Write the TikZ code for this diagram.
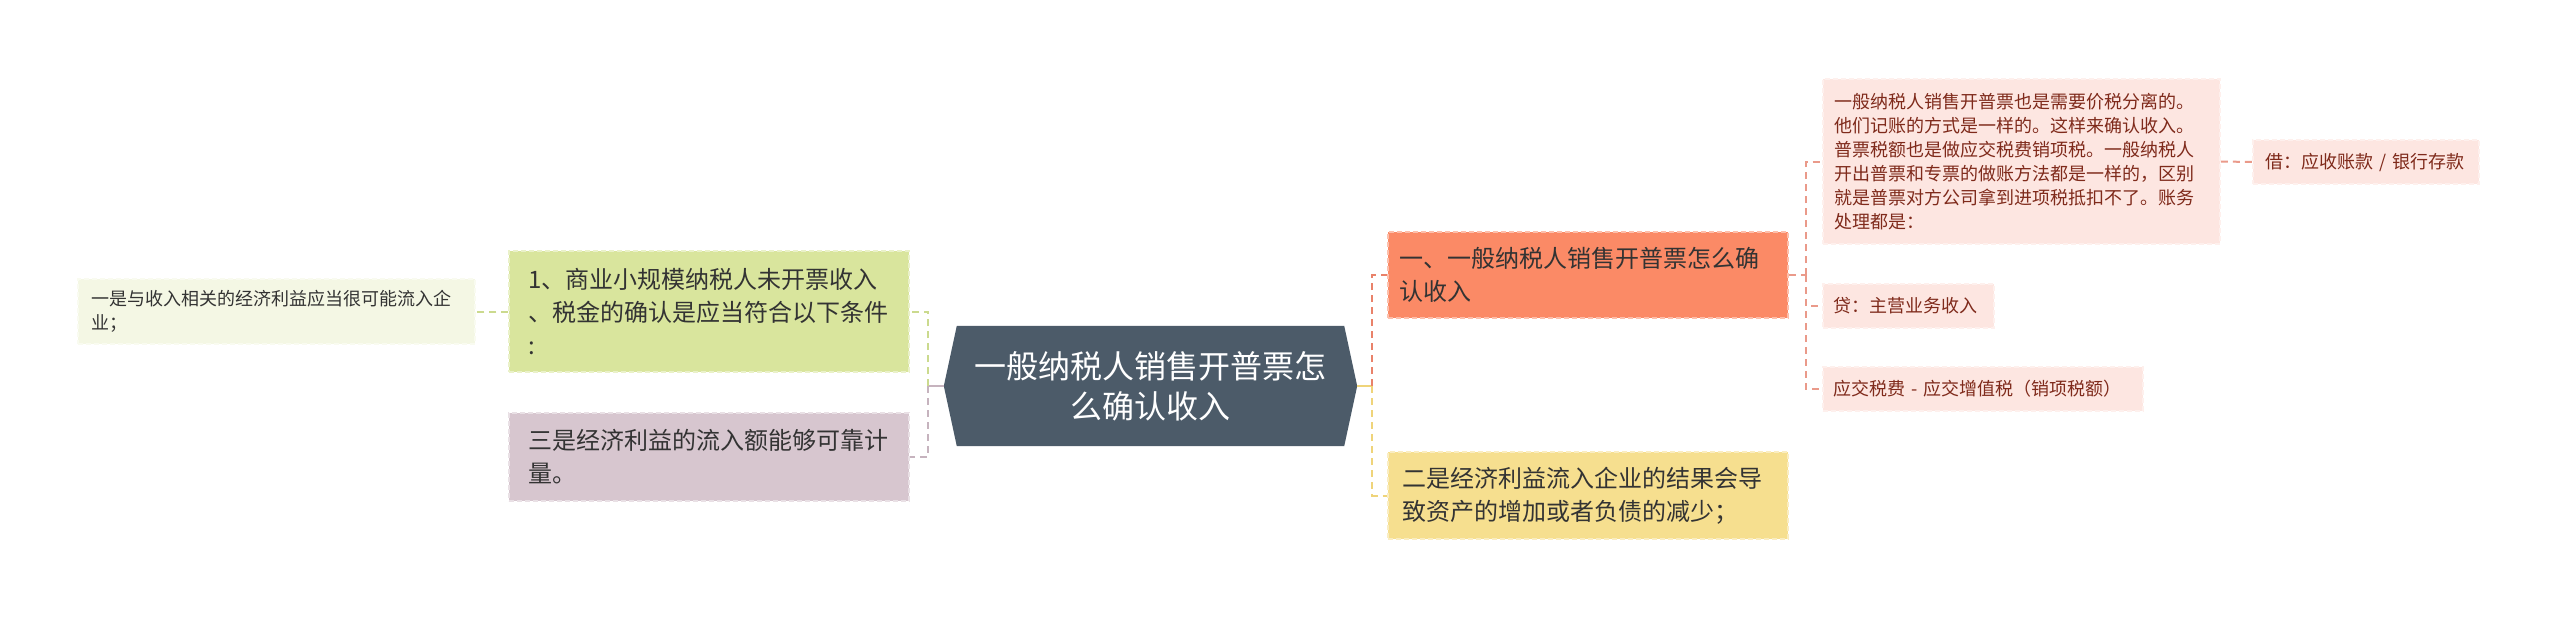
\documentclass[tikz,border=0pt]{standalone}
\usepackage{fontspec}
\setmainfont{Noto Sans CJK SC}
\usetikzlibrary{backgrounds}

\definecolor{hubfill}{HTML}{4C5B69}
\definecolor{greenfill}{HTML}{D9E59D}
\definecolor{plumfill}{HTML}{D7C6CF}
\definecolor{palefill}{HTML}{F4F7E4}
\definecolor{coralfill}{HTML}{FB8A66}
\definecolor{sandfill}{HTML}{F6DF8F}
\definecolor{rosefill}{HTML}{FDE6E1}
\definecolor{greenlink}{HTML}{CBDA8E}
\definecolor{plumlink}{HTML}{C6B3BE}
\definecolor{corallink}{HTML}{E9826A}
\definecolor{sandlink}{HTML}{EFD47A}
\definecolor{roselink}{HTML}{EA9A8A}
\definecolor{rosetext}{HTML}{7F2A1B}
\definecolor{darktext}{HTML}{333333}

\tikzset{
  card/.style={rectangle, inner ysep=0pt, align=left, dashed, line width=1.5pt,
    dash pattern=on 5pt off 3pt, text=darktext},
  big/.style={font=\fontsize{24}{33}\selectfont},
  small/.style={font=\fontsize{18}{24}\selectfont},
  link/.style={draw=#1, line width=2pt, dash pattern=on 7pt off 5pt}
}

\begin{document}
\begin{tikzpicture}[x=1pt, y=-1pt]

\useasboundingbox (0,0) rectangle (2560,621);

% centre
\node[text=white, align=center, minimum width=387, minimum height=120, inner sep=0pt,
  font=\fontsize{32}{40}\selectfont] (hub) at (1150.5,386) {一般纳税人销售开普票怎\\么确认收入};
\begin{scope}[on background layer]
\fill[hubfill] (hub.north west) -- (hub.north east) -- ([xshift=13pt]hub.east)
  -- (hub.south east) -- (hub.south west) -- ([xshift=-13pt]hub.west) -- cycle;
\end{scope}
\coordinate (hubl) at ([xshift=-13pt]hub.west);
\coordinate (hubr) at ([xshift=13pt]hub.east);

% left side
\node[card, big, fill=greenfill, draw=greenfill!55!white, minimum width=400, minimum height=121,
  inner xsep=19pt, text width=362] (cond) at (709,311.5)
  {1、商业小规模纳税人未开票收入\\、税金的确认是应当符合以下条件\\:};
\node[card, big, fill=plumfill, draw=plumfill!55!white, minimum width=400, minimum height=88,
  inner xsep=19pt, text width=362] (third) at (709,457)
  {三是经济利益的流入额能够可靠计\\量。};
\node[card, small, fill=palefill, draw=palefill!55!white, minimum width=397, minimum height=65,
  inner xsep=13pt, text width=371] (first) at (276.5,311.5)
  {一是与收入相关的经济利益应当很可能流入企\\业；};

% right side
\node[card, big, fill=coralfill, draw=coralfill!55!white, minimum width=400, minimum height=86,
  inner xsep=11pt, text width=378] (head) at (1588,275)
  {一、一般纳税人销售开普票怎么确\\认收入};
\node[card, big, fill=sandfill, draw=sandfill!55!white, minimum width=400, minimum height=87,
  inner xsep=14pt, text width=372] (second) at (1588,495.5)
  {二是经济利益流入企业的结果会导\\致资产的增加或者负债的减少；};

\node[card, small, fill=rosefill, draw=rosefill!60!white, text=rosetext, minimum width=397,
  minimum height=165, inner xsep=11pt, text width=375] (note) at (2021.5,161.5)
  {一般纳税人销售开普票也是需要价税分离的。\\他们记账的方式是一样的。这样来确认收入。\\普票税额也是做应交税费销项税。一般纳税人\\开出普票和专票的做账方法都是一样的，区别\\就是普票对方公司拿到进项税抵扣不了。账务\\处理都是：};
\node[card, small, fill=rosefill, draw=rosefill!60!white, text=rosetext, minimum width=226,
  minimum height=44, inner xsep=12pt, text width=202] (debit) at (2366,162)
  {借：应收账款 / 银行存款};
\node[card, small, fill=rosefill, draw=rosefill!60!white, text=rosetext, minimum width=171,
  minimum height=44, inner xsep=10pt, text width=151] (credit) at (1908.5,306)
  {贷：主营业务收入};
\node[card, small, fill=rosefill, draw=rosefill!60!white, text=rosetext, minimum width=320,
  minimum height=44, inner xsep=10pt, text width=300] (tax) at (1983,389)
  {应交税费 - 应交增值税（销项税额）};

% links
\coordinate (lj) at (928,386);
\coordinate (rj) at (1372,386);
\coordinate (oj) at (1806,275);
\draw[plumlink, line width=2pt] (hubl) -- (lj);
\draw[link=greenlink] (lj) |- (cond.east);
\draw[link=plumlink] (lj) |- (third.east);
\draw[link=greenlink] (cond.west) -- (first.east);

\draw[sandlink, line width=2pt] (hubr) -- (rj);
\draw[link=corallink] (rj) |- (head.west);
\draw[link=sandlink] (rj) |- (second.west);

\draw[link=roselink] (head.east) -- (oj);
\draw[link=roselink] (oj) |- (note.west);
\draw[link=roselink] (oj) |- (credit.west);
\draw[link=roselink] (oj) |- (tax.west);
\draw[link=roselink] (note.east) -- (debit.west);

\end{tikzpicture}
\end{document}
